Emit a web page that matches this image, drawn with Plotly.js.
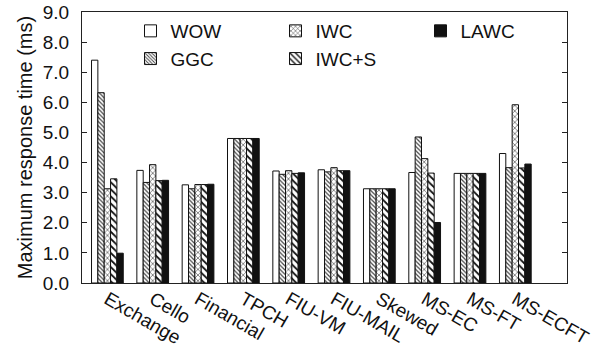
<!DOCTYPE html>
<html>
<head>
<meta charset="utf-8">
<script src="https://cdn.plot.ly/plotly-3.0.1.min.js"></script>
<style>html,body{margin:0;padding:0;background:#fff;}#chart{width:606px;height:353px;}</style>
</head>
<body>
<div id="chart"></div>
<script>
const categories = ["Exchange","Cello","Financial","TPCH","FIU-VM","FIU-MAIL","Skewed","MS-EC","MS-FT","MS-ECFT"];
const seriesNames = ["WOW","GGC","IWC","IWC+S","LAWC"];
const wow   = [7.40, 3.74, 3.26, 4.80, 3.72, 3.76, 3.13, 3.67, 3.64, 4.30];
const ggc   = [6.32, 3.34, 3.13, 4.80, 3.61, 3.69, 3.13, 4.85, 3.64, 3.83];
const iwc   = [3.13, 3.93, 3.27, 4.80, 3.73, 3.83, 3.13, 4.13, 3.64, 5.92];
const iwcs  = [3.46, 3.40, 3.27, 4.80, 3.64, 3.73, 3.13, 3.65, 3.64, 3.82];
const lawc  = [0.99, 3.41, 3.28, 4.80, 3.66, 3.73, 3.13, 2.01, 3.64, 3.95];
const yTicks = [0,1,2,3,4,5,6,7,8,9];

const values = [wow, ggc, iwc, iwcs, lawc];
const styles = [
  {color:"#ffffff", pattern:{shape:""}},
  {color:"#ffffff", pattern:{shape:"\\", size:3, solidity:0.4, fgcolor:"#444", bgcolor:"#fff", fillmode:"replace"}},
  {color:"#ffffff", pattern:{shape:"x", size:4, solidity:0.25, fgcolor:"#222", bgcolor:"#fff", fillmode:"replace"}},
  {color:"#ffffff", pattern:{shape:"\\", size:5, solidity:0.35, fgcolor:"#111", bgcolor:"#fff", fillmode:"replace"}},
  {color:"#111111", pattern:{shape:""}}
];
const ranks = [1,4,2,5,3];
const xIdx = categories.map((c,i)=>i);

const traces = seriesNames.map((n,k)=>({
  type:"bar",
  name:n,
  x:xIdx,
  y:values[k],
  legendrank:ranks[k],
  marker:{color:styles[k].color, pattern:styles[k].pattern, line:{color:"#111", width:1}},
  hoverinfo:"skip"
}));

const fam = "Liberation Sans, Arial, Helvetica, sans-serif";
const font = {family:fam, size:20, color:"#111"};

const layout = {
  width:606, height:353,
  margin:{l:82, r:39, t:12, b:70},
  paper_bgcolor:"#fff", plot_bgcolor:"#fff",
  font:font,
  barmode:"group",
  bargap:0.30,
  bargroupgap:0,
  showlegend:true,
  legend:{orientation:"h", x:0.1, y:1.0, xanchor:"left", yanchor:"top", entrywidth:100, entrywidthmode:"pixels",
          bgcolor:"rgba(0,0,0,0)", font:{family:fam, size:19, color:"#111"}, traceorder:"normal", itemwidth:30},
  xaxis:{range:[-0.56,10.14], tickvals:xIdx, ticktext:categories, tickangle:30, ticks:"", showgrid:false,
         showline:true, linecolor:"#222", linewidth:1, mirror:true, zeroline:false,
         ticklabelstandoff:-3,
         tickfont:{family:fam, size:19, color:"#111"}},
  yaxis:{range:[0,9], tickvals:yTicks, tickformat:".1f", ticks:"inside", ticklen:5, tickcolor:"#222",
         showgrid:false, showline:true, linecolor:"#222", linewidth:1, mirror:"ticks", zeroline:false,
         ticklabelstandoff:8,
         tickfont:{family:fam, size:19, color:"#111"},
         title:{text:"Maximum response time (ms)", font:{family:fam, size:20, color:"#111"}, standoff:4}}
};

Plotly.newPlot("chart", traces, layout, {staticPlot:true, displayModeBar:false});
</script>
</body>
</html>
